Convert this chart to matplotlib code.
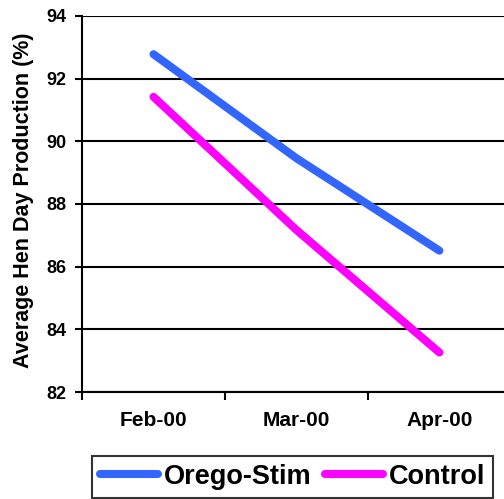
import numpy as np
import matplotlib.pyplot as plt

months = ['Feb-00', 'Mar-00', 'Apr-00']
orego_stim = [92.78, 89.46, 86.51]
control = [91.42, 87.17, 83.26]

plt.rcParams['font.family'] = ['Liberation Sans', 'DejaVu Sans']
plt.rcParams['font.weight'] = 'bold'

fig = plt.figure(figsize=(5.04, 4.99), dpi=100)
ax = fig.add_axes([0.1627, 0.2144, 0.851, 0.7536])

x = np.arange(len(months))
l1, = ax.plot(x, orego_stim, color='#3366FF', lw=5.8, solid_capstyle='round', label='Orego-Stim')
l2, = ax.plot(x, control, color='#FF00FF', lw=5.8, solid_capstyle='round', label='Control')

ax.set_xlim(-0.5, 2.5)
ax.set_ylim(82, 94)
ax.set_yticks(np.arange(82, 95, 2))
ax.yaxis.grid(True, color='black', lw=1.5)
ax.set_axisbelow(True)

ax.set_xticks(x)
ax.set_xticklabels(months, fontsize=15, fontweight='bold')
ax.set_xticks([-0.5, 0.5, 1.5, 2.5], minor=True)
ax.tick_params(axis='x', which='major', length=0, pad=14)
ax.tick_params(axis='x', which='minor', length=5.5, width=1.5, direction='out')
ax.tick_params(axis='y', length=5, width=1.5, direction='out', labelsize=13, pad=6)
for lab in ax.get_yticklabels():
    lab.set_fontweight('bold')

for s in ['top', 'right']:
    ax.spines[s].set_visible(False)
for s in ['left', 'bottom']:
    ax.spines[s].set_linewidth(1.5)

ax.set_ylabel('Average Hen Day Production (%)', fontsize=15.5, fontweight='bold')
ax.yaxis.set_label_coords(-0.112, 0.51)

leg = fig.legend(handles=[l1, l2], loc='lower left', bbox_to_anchor=(0.1825, 0.002),
                 ncol=2, frameon=True, fancybox=False,
                 prop={'weight': 'bold', 'size': 19.5}, handlelength=2.15,
                 handletextpad=0.2, columnspacing=0.5, borderpad=0.3,
                 borderaxespad=0)
leg.get_frame().set_edgecolor('black')
leg.get_frame().set_linewidth(1.5)

fig.savefig('out.png', dpi=100)
